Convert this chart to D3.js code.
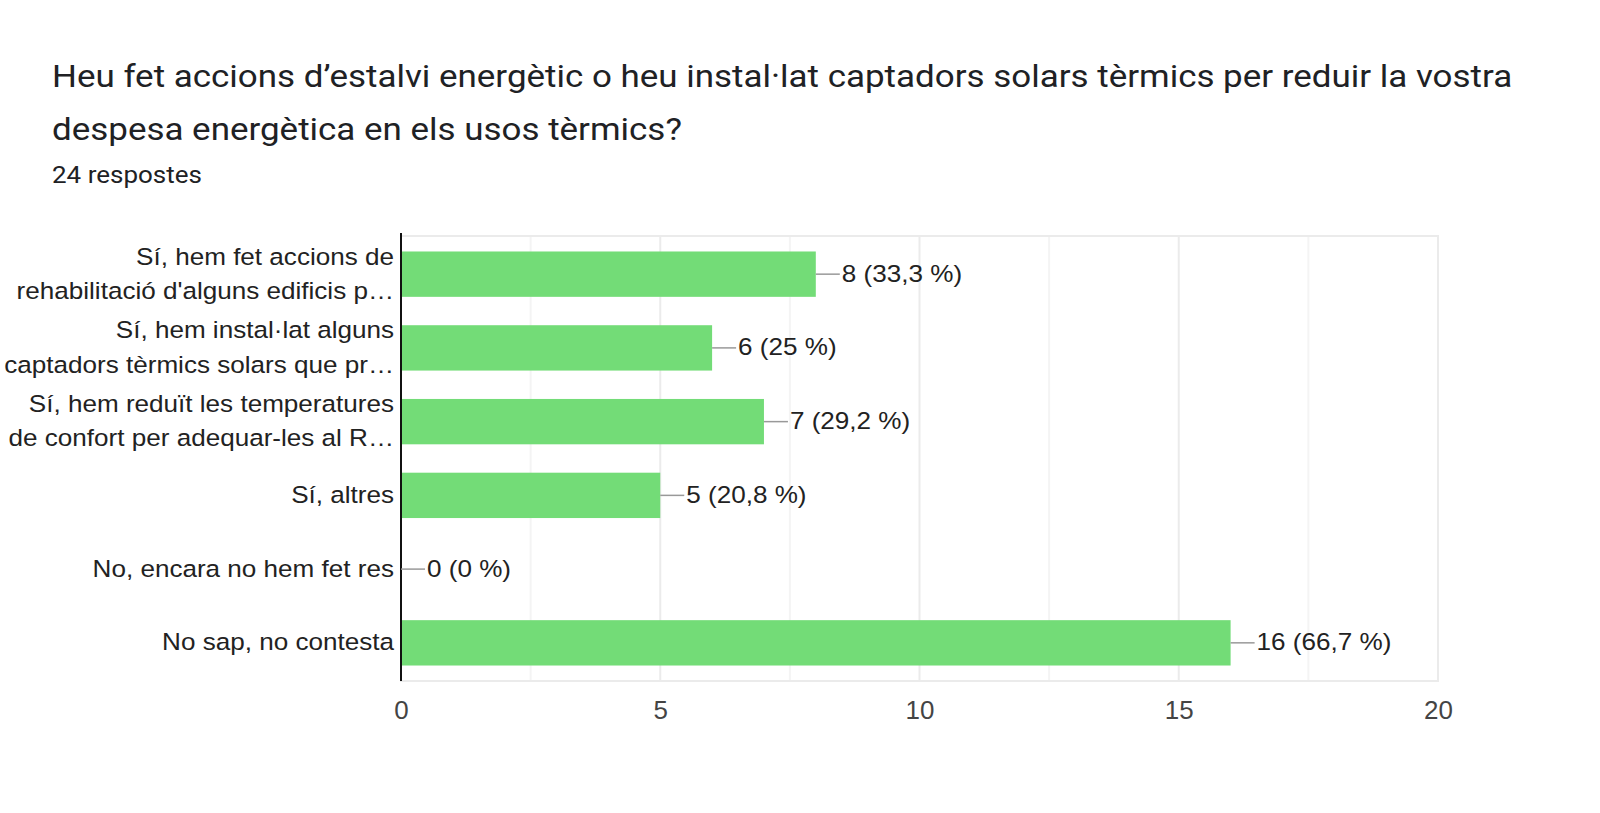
<!DOCTYPE html>
<html>
<head>
<meta charset="utf-8">
<script src="https://cdn.jsdelivr.net/npm/d3@7"></script>
<style>
  html, body { margin: 0; padding: 0; background: #fff; }
  #svg-container { width: 1600px; height: 813px; }
  .title { font-family: Roboto, "Noto Sans", sans-serif; fill: #202124; }
  .chart-text { font-family: "Liberation Sans", Arial, sans-serif; }
</style>
</head>
<body>
<div id="svg-container"></div>
<script>
////////////////////////////////////////////////////////////////////
////////////////////////////  Data  ////////////////////////////////
const titleLines = [
  "Heu fet accions d’estalvi energètic o heu instal·lat captadors solars tèrmics per reduir la vostra",
  "despesa energètica en els usos tèrmics?",
];
const subtitle = "24 respostes";
const totalResponses = 24;

const categories = [
  ["Sí, hem fet accions de", "rehabilitació d'alguns edificis p…"],
  ["Sí, hem instal·lat alguns", "captadors tèrmics solars que pr…"],
  ["Sí, hem reduït les temperatures", "de confort per adequar-les al R…"],
  ["Sí, altres"],
  ["No, encara no hem fet res"],
  ["No sap, no contesta"],
];
const values = [8, 6, 7, 5, 0, 16];
const xTicks = [0, 5, 10, 15, 20];
const xGrid = [2.5, 5, 7.5, 10, 12.5, 15, 17.5];

////////////////////////////////////////////////////////////////////
////////////////////////////  Init  ///////////////////////////////
const width = 1600;
const height = 813;
const SX = 1.11; // the text in the picture is a bit wide
const SX_TITLE = 1.092;

const svg = d3
  .select("#svg-container")
  .append("svg")
  .attr("width", width)
  .attr("height", height);

const plot = { left: 401, right: 1438, top: 236, bottom: 681 };

const x = d3.scaleLinear().domain([0, 20]).range([plot.left, plot.right]);
const y = d3
  .scaleBand()
  .domain(d3.range(categories.length))
  .range([plot.top, plot.bottom])
  .paddingInner(0.385)
  .paddingOuter(0.21);

// place a text with a small horizontal stretch
function put(sel, px, py, sx = SX) {
  return sel.attr("transform", (d, i) => {
    const tx = typeof px === "function" ? px(d, i) : px;
    const ty = typeof py === "function" ? py(d, i) : py;
    return `translate(${tx},${ty}) scale(${sx},1)`;
  });
}

////////////////////////////////////////////////////////////////////
////////////////////////////  Title  ///////////////////////////////
svg
  .selectAll(".title")
  .data(titleLines)
  .join("text")
  .attr("class", "title")
  .style("font-size", "32px")
  .call(put, 52, (d, i) => 87 + i * 53, SX_TITLE)
  .text((d) => d);

svg
  .append("text")
  .attr("class", "title")
  .style("font-size", "23.8px")
  .call(put, 52, 183, SX_TITLE)
  .text(subtitle);

////////////////////////////////////////////////////////////////////
////////////////////////////  Grid  ////////////////////////////////
svg
  .append("g")
  .selectAll("line")
  .data(xGrid)
  .join("line")
  .attr("x1", (d) => x(d))
  .attr("x2", (d) => x(d))
  .attr("y1", plot.top)
  .attr("y2", plot.bottom)
  .attr("stroke", (d) => (d % 5 === 0 ? "#ebebeb" : "#f4f4f4"))
  .attr("stroke-width", 2);

// frame
svg
  .append("rect")
  .attr("x", plot.left)
  .attr("y", plot.top)
  .attr("width", plot.right - plot.left)
  .attr("height", plot.bottom - plot.top)
  .attr("fill", "none")
  .attr("stroke", "#ebebeb")
  .attr("stroke-width", 2);

////////////////////////////////////////////////////////////////////
////////////////////////////  Bars  ////////////////////////////////
svg
  .append("g")
  .selectAll("rect")
  .data(values)
  .join("rect")
  .attr("x", x(0))
  .attr("y", (d, i) => y(i))
  .attr("width", (d) => x(d) - x(0))
  .attr("height", y.bandwidth())
  .attr("fill", "#73dc77");

// zero axis
svg
  .append("line")
  .attr("x1", x(0))
  .attr("x2", x(0))
  .attr("y1", plot.top - 3)
  .attr("y2", plot.bottom)
  .attr("stroke", "#111")
  .attr("stroke-width", 2);

// value labels with connector
const mid = (i) => y(i) + y.bandwidth() / 2;
const fmt = (v) =>
  `${v} (${d3.format(".1~f")((v / totalResponses) * 100).replace(".", ",")} %)`;

svg
  .append("g")
  .selectAll("line")
  .data(values)
  .join("line")
  .attr("x1", (d) => x(d))
  .attr("x2", (d) => x(d) + 24)
  .attr("y1", (d, i) => mid(i))
  .attr("y2", (d, i) => mid(i))
  .attr("stroke", "#999")
  .attr("stroke-width", 1.5);

svg
  .append("g")
  .selectAll("text")
  .data(values)
  .join("text")
  .attr("class", "chart-text")
  .style("font-size", "23.5px")
  .attr("fill", "#222")
  .call(put, (d) => x(d) + 26, (d, i) => mid(i) + 7.6)
  .text((d) => fmt(d));

////////////////////////////////////////////////////////////////////
////////////////////////////  Axes  ////////////////////////////////
const catLabel = svg
  .append("g")
  .selectAll("text")
  .data(categories)
  .join("text")
  .attr("class", "chart-text")
  .style("font-size", "23.5px")
  .attr("fill", "#222")
  .attr("text-anchor", "end")
  .call(put, 394, (d, i) => mid(i) + 7.6);

catLabel
  .selectAll("tspan")
  .data((d) => d.map((t, j) => ({ t, j, n: d.length })))
  .join("tspan")
  .attr("x", 0)
  .attr("y", (d) => (d.j - (d.n - 1) / 2) * 34.4)
  .text((d) => d.t);

const xAxis = d3
  .axisBottom(x)
  .tickValues(xTicks)
  .tickSize(0)
  .tickPadding(0)
  .tickFormat(d3.format("d"));

const gx = svg
  .append("g")
  .attr("transform", `translate(0,${plot.bottom})`)
  .call(xAxis);
gx.select(".domain").remove();
gx.selectAll("text")
  .attr("class", "chart-text")
  .attr("dy", null)
  .attr("y", null)
  .style("font-size", "26px")
  .attr("fill", "#444")
  .attr("transform", `translate(0,38) scale(${SX * 0.9},1)`);
</script>
</body>
</html>
